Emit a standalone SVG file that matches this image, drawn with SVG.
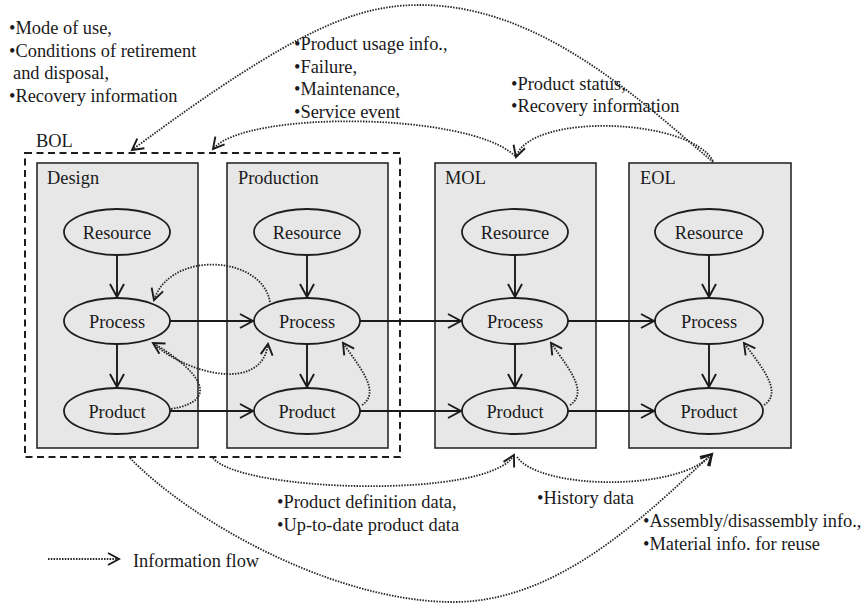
<svg xmlns="http://www.w3.org/2000/svg" width="867" height="605" viewBox="0 0 867 605">
  <defs>
    <style>
      text { font-family: "Liberation Serif", "Times New Roman", serif; font-size: 18.4px; fill: #1a1a1a; }
      .phase { fill: #e7e7e7; stroke: #2a2a2a; stroke-width: 1.6; }
      .node { fill: #e7e7e7; stroke: #1e1e1e; stroke-width: 1.8; }
      .label { text-anchor: middle; }
      .flow { fill: none; stroke: #1a1a1a; stroke-width: 1.9; marker-end: url(#arrow); }
      .info { fill: none; stroke: #262626; stroke-width: 1.8; stroke-dasharray: 1.5 1.3; marker-end: url(#infoArrow); }
      .region { fill: none; stroke: #1e1e1e; stroke-width: 2; stroke-dasharray: 7 4.5; }
    </style>
    <marker id="arrow" markerUnits="userSpaceOnUse" viewBox="-16 -10 18 20" markerWidth="18" markerHeight="20" refX="0" refY="0" orient="auto" overflow="visible">
      <path d="M-13,-7 L0,0 L-13,7" fill="none" stroke="#1a1a1a" stroke-width="1.9" stroke-dasharray="none"/>
    </marker>
    <marker id="infoArrow" markerUnits="userSpaceOnUse" viewBox="-14 -9 16 18" markerWidth="16" markerHeight="18" refX="0" refY="0" orient="auto" overflow="visible">
      <path d="M-11,-6 L0,0 L-11,6" fill="none" stroke="#1a1a1a" stroke-width="1.9" stroke-dasharray="none"/>
    </marker>
  </defs>

  <rect width="867" height="605" fill="#ffffff"/>

  <!-- Lifecycle phases -->
  <g id="design">
    <rect class="phase" x="37" y="163" width="161" height="285"/>
    <text x="47" y="184">Design</text>
  </g>
  <g id="production">
    <rect class="phase" x="227" y="163" width="161" height="285"/>
    <text x="238" y="184">Production</text>
  </g>
  <g id="mol">
    <rect class="phase" x="435" y="163" width="161" height="285"/>
    <text x="445" y="184">MOL</text>
  </g>
  <g id="eol">
    <rect class="phase" x="629" y="163" width="162" height="285"/>
    <text x="640" y="184">EOL</text>
  </g>

  <!-- Beginning-of-life region around design and production -->
  <g id="bol">
    <rect class="region" x="25" y="153" width="375" height="304"/>
    <text x="36" y="147">BOL</text>
  </g>

  <!-- Resource / Process / Product nodes per phase -->
  <g id="design-resource"><ellipse class="node" cx="117" cy="232" rx="53" ry="23"/><text class="label" x="117" y="238.5">Resource</text></g>
  <g id="design-process"><ellipse class="node" cx="117" cy="321" rx="53" ry="23"/><text class="label" x="117" y="327.5">Process</text></g>
  <g id="design-product"><ellipse class="node" cx="117" cy="411" rx="53" ry="23"/><text class="label" x="117" y="417.5">Product</text></g>

  <g id="production-resource"><ellipse class="node" cx="307" cy="232" rx="53" ry="23"/><text class="label" x="307" y="238.5">Resource</text></g>
  <g id="production-process"><ellipse class="node" cx="307" cy="321" rx="53" ry="23"/><text class="label" x="307" y="327.5">Process</text></g>
  <g id="production-product"><ellipse class="node" cx="307" cy="411" rx="53" ry="23"/><text class="label" x="307" y="417.5">Product</text></g>

  <g id="mol-resource"><ellipse class="node" cx="515" cy="232" rx="53" ry="23"/><text class="label" x="515" y="238.5">Resource</text></g>
  <g id="mol-process"><ellipse class="node" cx="515" cy="321" rx="53" ry="23"/><text class="label" x="515" y="327.5">Process</text></g>
  <g id="mol-product"><ellipse class="node" cx="515" cy="411" rx="53" ry="23"/><text class="label" x="515" y="417.5">Product</text></g>

  <g id="eol-resource"><ellipse class="node" cx="709" cy="232" rx="54" ry="23"/><text class="label" x="709" y="238.5">Resource</text></g>
  <g id="eol-process"><ellipse class="node" cx="709" cy="321" rx="54" ry="23"/><text class="label" x="709" y="327.5">Process</text></g>
  <g id="eol-product"><ellipse class="node" cx="709" cy="411" rx="54" ry="23"/><text class="label" x="709" y="417.5">Product</text></g>

  <g id="connectors">
    <!-- material flow: resource to process to product -->
    <line class="flow" x1="117" y1="255" x2="117" y2="297"/>
    <line class="flow" x1="117" y1="344" x2="117" y2="387"/>
    <line class="flow" x1="307" y1="255" x2="307" y2="297"/>
    <line class="flow" x1="307" y1="344" x2="307" y2="387"/>
    <line class="flow" x1="515" y1="255" x2="515" y2="297"/>
    <line class="flow" x1="515" y1="344" x2="515" y2="387"/>
    <line class="flow" x1="709" y1="255" x2="709" y2="297"/>
    <line class="flow" x1="709" y1="344" x2="709" y2="387"/>
    <!-- phase to phase -->
    <line class="flow" x1="170" y1="321" x2="253" y2="321"/>
    <line class="flow" x1="360" y1="321" x2="461" y2="321"/>
    <line class="flow" x1="568" y1="321" x2="654" y2="321"/>
    <line class="flow" x1="170" y1="411" x2="253" y2="411"/>
    <line class="flow" x1="360" y1="411" x2="461" y2="411"/>
    <line class="flow" x1="568" y1="411" x2="654" y2="411"/>

    <!-- information flows inside the phases -->
    <path class="info" d="M270,302 C262,255 170,250 154,300"/>
    <path class="info" d="M171,409 C225,400 195,368 153,343"/>
    <path class="info" d="M155,345 C190,375 262,392 268,344"/>
    <path class="info" d="M362,405 C382,392 358,365 343,343"/>
    <path class="info" d="M570,405 C590,392 566,365 551,343"/>
    <path class="info" d="M764,405 C784,392 760,365 744,343"/>

    <!-- information flows between phases (top) -->
    <path class="info" d="M515,156 C470,112 245,110 213,149"/>
    <path class="info" d="M713,161 C690,118 530,112 516,157"/>
    <path class="info" d="M713,162 C640,100 540,5 420,5 C360,5 300,25 132,150"/>

    <!-- information flows between phases (bottom) -->
    <path class="info" d="M213,458 C240,492 490,500 514,455"/>
    <path class="info" d="M517,457 C540,490 680,492 712,454"/>
    <path class="info" d="M130,458 C190,520 330,600 450,602 C560,604 650,510 712,454"/>

    <!-- legend sample -->
    <path class="info" d="M48,559 L119,559"/>
  </g>

  <g id="annotations">
    <text x="9" y="34">•Mode of use,</text>
    <text x="9" y="57">•Conditions of retirement</text>
    <text x="13" y="79">and disposal,</text>
    <text x="9" y="102">•Recovery information</text>

    <text x="294" y="50">•Product usage info.,</text>
    <text x="294" y="72.5">•Failure,</text>
    <text x="294" y="95">•Maintenance,</text>
    <text x="294" y="117.5">•Service event</text>

    <text x="511" y="90">•Product status,</text>
    <text x="511" y="112">•Recovery information</text>

    <text x="277" y="508">•Product definition data,</text>
    <text x="277" y="531">•Up-to-date product data</text>

    <text x="537" y="504">•History data</text>

    <text x="643" y="527">•Assembly/disassembly info.,</text>
    <text x="643" y="549.5">•Material info. for reuse</text>

    <text x="133" y="567">Information flow</text>
  </g>
</svg>
